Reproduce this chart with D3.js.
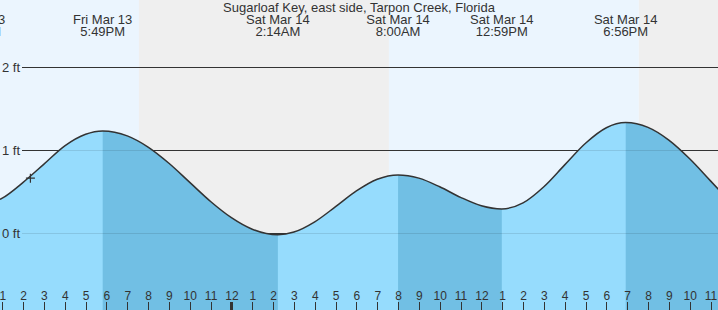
<!DOCTYPE html>
<html>
<head>
<meta charset="utf-8">
<script src="https://cdn.jsdelivr.net/npm/d3@7"></script>
<style>
    html, body { margin: 0; padding: 0; background: #fff; }
    svg { display: block; font-family: "Liberation Sans", Arial, sans-serif; }
    .label { fill: #333; }
</style>
</head>
<body>
<div id="tide"></div>
<script>
// hours are counted from Sat Mar 14, 00:00
const title = "Sugarloaf Key, east side, Tarpon Creek, Florida";

const tideHours = [-12.28, -11, -10, -9, -8, -7, -6.18, -5, -4, -3, -2, -1, 0, 1, 2.23, 3, 4, 5, 6, 7, 8,
                   9, 10, 11, 12, 12.98, 14, 15, 16, 17, 18, 18.93, 20, 21, 22, 23, 24];
const tideFeet = [0.33, 0.42, 0.61, 0.83, 1.05, 1.19, 1.23, 1.17, 1.035, 0.84, 0.61, 0.38, 0.185, 0.046, -0.02, 0.011, 0.134, 0.317, 0.507, 0.648, 0.70,
                  0.661, 0.557, 0.43, 0.328, 0.29, 0.363, 0.558, 0.821, 1.081, 1.268, 1.33, 1.272, 1.119, 0.894, 0.628, 0.36];

const extremeHours = [-12.28, -6.18, 2.23, 8, 12.98, 18.93];
const extremeKinds = ["L", "H", "L", "H", "L", "H"];
const extremeDays = ["Fri Mar 13", "Fri Mar 13", "Sat Mar 14", "Sat Mar 14", "Sat Mar 14", "Sat Mar 14"];
const extremeTimes = ["11:43AM", "5:49PM", "2:14AM", "8:00AM", "12:59PM", "6:56PM"];

const sunriseHours = [7.56];
const sunsetHours = [-4.44, 19.56];

const hourTicks = [-11, -10, -9, -8, -7, -6, -5, -4, -3, -2, -1, 0, 1, 2, 3, 4, 5, 6, 7, 8, 9, 10, 11,
                   12, 13, 14, 15, 16, 17, 18, 19, 20, 21, 22, 23];
const hourLabels = ["1", "2", "3", "4", "5", "6", "7", "8", "9", "10", "11", "12", "1", "2", "3", "4", "5", "6", "7", "8", "9", "10", "11",
                    "12", "1", "2", "3", "4", "5", "6", "7", "8", "9", "10", "11"];

const feetTicks = [0, 1, 2];
const feetLabels = ["0 ft", "1 ft", "2 ft"];

const nowHour = -9.65;
const nowFeet = 0.66;

class TideChart {
    constructor() {
        this.width = 718;
        this.height = 310;
        this.svg = d3.select('#tide')
            .append('svg')
            .attr('width', this.width)
            .attr('height', this.height);
        this.x = d3.scaleLinear().domain([-11.11, 23.36]).range([0, this.width]);
        this.y = d3.scaleLinear().domain([0, 2]).range([233, 67]);
    }

    render() {
        const x = this.x, y = this.y, svg = this.svg;
        const [h0, h1] = x.domain();

        // day / night background
        const bounds = [h0, ...sunsetHours, ...sunriseHours, h1].sort((a, b) => a - b);
        const bands = [];
        for (let i = 0; i < bounds.length - 1; i++) {
            const night = sunsetHours.includes(bounds[i]);
            bands.push({ a: bounds[i], b: bounds[i + 1], night: night });
        }
        svg.selectAll('.band')
            .data(bands)
            .enter().append('rect')
            .attr('class', 'band')
            .attr('x', d => x(d.a))
            .attr('width', d => x(d.b) - x(d.a))
            .attr('y', 0)
            .attr('height', this.height)
            .attr('fill', d => d.night ? '#efefef' : '#ebf5fe');

        // grid lines
        svg.selectAll('.grid')
            .data(feetTicks)
            .enter().append('line')
            .attr('class', 'grid')
            .attr('x1', 22).attr('x2', this.width)
            .attr('y1', d => Math.round(y(d)) + 0.5)
            .attr('y2', d => Math.round(y(d)) + 0.5)
            .attr('stroke', '#333')
            .attr('stroke-width', 1);

        const pts = tideHours.map((h, i) => [h, tideFeet[i]]);
        const area = d3.area()
            .x(d => x(d[0]))
            .y0(this.height)
            .y1(d => y(d[1]))
            .curve(d3.curveMonotoneX);
        const line = d3.line()
            .x(d => x(d[0]))
            .y(d => y(d[1]))
            .curve(d3.curveMonotoneX);

        svg.append('clipPath').attr('id', 'water')
            .append('path').attr('d', area(pts));

        const water = svg.append('g').attr('clip-path', 'url(#water)');
        water.append('rect')
            .attr('x', 0).attr('y', 0)
            .attr('width', this.width).attr('height', this.height)
            .attr('fill', '#96dcfd');

        // falling tide is darker
        const falling = [];
        extremeHours.forEach((h, i) => {
            if (extremeKinds[i] === 'H') {
                const end = i + 1 < extremeHours.length ? extremeHours[i + 1] : h1 + 1;
                falling.push([h, end]);
            }
        });
        water.selectAll('.falling')
            .data(falling)
            .enter().append('rect')
            .attr('class', 'falling')
            .attr('x', d => x(d[0]))
            .attr('width', d => x(d[1]) - x(d[0]))
            .attr('y', 0).attr('height', this.height)
            .attr('fill', '#71bfe4');

        water.selectAll('.wgrid')
            .data(feetTicks)
            .enter().append('line')
            .attr('class', 'wgrid')
            .attr('x1', 22).attr('x2', this.width)
            .attr('y1', d => Math.round(y(d)) + 0.5)
            .attr('y2', d => Math.round(y(d)) + 0.5)
            .attr('stroke', '#000')
            .attr('stroke-opacity', 0.1);

        svg.append('path')
            .attr('d', line(pts))
            .attr('fill', 'none')
            .attr('stroke', '#333')
            .attr('stroke-width', 1.5);

        // current time marker
        const mx = x(nowHour), my = y(nowFeet);
        svg.append('path')
            .attr('d', `M${mx - 4.5},${my}H${mx + 4.5}M${mx},${my - 4.5}V${my + 4.5}`)
            .attr('stroke', '#333')
            .attr('stroke-width', 1.2);

        // feet labels
        svg.selectAll('.ft')
            .data(feetTicks)
            .enter().append('text')
            .attr('class', 'label ft')
            .attr('x', 2)
            .attr('y', d => y(d) + 4.5)
            .attr('font-size', 13)
            .text((d, i) => feetLabels[i]);

        // title and tide extremes
        svg.append('text')
            .attr('class', 'label')
            .attr('x', this.width / 2)
            .attr('y', 12)
            .attr('text-anchor', 'middle')
            .attr('font-size', 13)
            .text(title);

        const ext = svg.selectAll('.ext')
            .data(extremeHours)
            .enter().append('g')
            .attr('class', 'ext')
            .attr('transform', d => `translate(${x(d)},0)`);
        ext.append('text')
            .attr('class', 'label')
            .attr('y', 24)
            .attr('text-anchor', 'middle')
            .attr('font-size', 13)
            .text((d, i) => extremeDays[i]);
        ext.append('text')
            .attr('class', 'label')
            .attr('y', 36)
            .attr('text-anchor', 'middle')
            .attr('font-size', 13)
            .text((d, i) => extremeTimes[i]);

        // hour axis at bottom
        const axis = d3.axisBottom(x)
            .tickValues(hourTicks)
            .tickSize(0)
            .tickFormat((d, i) => hourLabels[i]);
        const g = svg.append('g')
            .attr('transform', 'translate(0,289)')
            .call(axis);
        g.select('.domain').remove();
        g.selectAll('text')
            .attr('fill', '#333')
            .attr('font-size', 12)
            .attr('font-family', '"Liberation Sans", Arial, sans-serif')
            .attr('dy', '0.71em')
            .attr('y', 2);

        svg.selectAll('.htick')
            .data(hourTicks)
            .enter().append('line')
            .attr('class', 'htick')
            .attr('x1', d => Math.round(x(d)) + 0.5)
            .attr('x2', d => Math.round(x(d)) + 0.5)
            .attr('y1', 302).attr('y2', this.height)
            .attr('stroke', '#333')
            .attr('stroke-width', d => d === 0 ? 3 : 1);
    }
}

new TideChart().render();
</script>
</body>
</html>
